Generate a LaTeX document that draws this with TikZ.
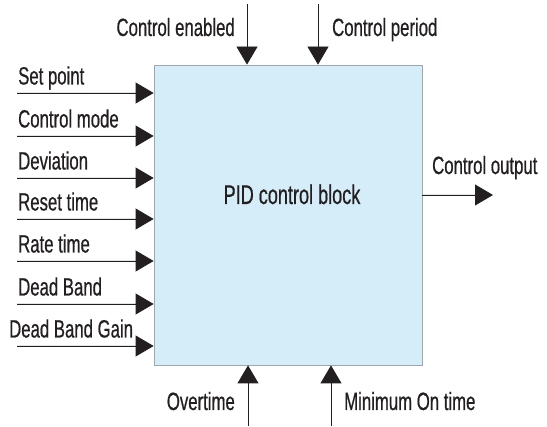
\documentclass[tikz,border=0pt]{standalone}
\usepackage{fontspec}
\setmainfont{Liberation Sans}[FakeStretch=0.67, FakeBold=0.6]
\usetikzlibrary{arrows.meta, positioning}
\definecolor{boxfill}{HTML}{D5ECF9}
\definecolor{boxline}{HTML}{9DA7AF}
\definecolor{inkdark}{HTML}{231F20}

\begin{document}
\begin{tikzpicture}[
  x=1pt, y=-1pt,
  >={Triangle[length=18pt, width=21pt]},
  font=\fontsize{25}{30}\selectfont,
  lbl/.style={inner sep=0pt, text=inkdark},
  pidbox/.style={draw=boxline, fill=boxfill, line width=0.8pt,
                 minimum width=268pt, minimum height=300pt, inner sep=0pt},
  arr/.style={draw=inkdark, fill=inkdark, line width=0.8pt, ->}
]
  \useasboundingbox (0,0) rectangle (547,427);

  % block
  \node[pidbox] (pid) at (288,215) {};
  \node[lbl, font=\fontsize{27}{32}\selectfont, anchor=base] (title) at (292,204)
    {PID control block};

  % inputs on the left
  \coordinate (setp)  at (17,93);
  \coordinate (cmode) at (17,136);
  \coordinate (dev)   at (17,178);
  \coordinate (reset) at (17,219);
  \coordinate (rate)  at (17,261);
  \coordinate (dband) at (17,304);
  \coordinate (dgain) at (17,346);
  \node[lbl, anchor=base west] (l-setp)  at (18,84.5)  {Set point};
  \node[lbl, anchor=base west] (l-cmode) at (18,127.5) {Control mode};
  \node[lbl, anchor=base west] (l-dev)   at (18,169.5) {Deviation};
  \node[lbl, anchor=base west] (l-reset) at (18,210.5) {Reset time};
  \node[lbl, anchor=base west] (l-rate)  at (18,252.5) {Rate time};
  \node[lbl, anchor=base west] (l-dband) at (18,295.5) {Dead Band};
  \node[lbl, anchor=base west] (l-dgain) at (9,337.5)  {Dead Band Gain};
  \draw[arr] (setp)  -- (setp -| pid.west);
  \draw[arr] (cmode) -- (cmode -| pid.west);
  \draw[arr] (dev)   -- (dev -| pid.west);
  \draw[arr] (reset) -- (reset -| pid.west);
  \draw[arr] (rate)  -- (rate -| pid.west);
  \draw[arr] (dband) -- (dband -| pid.west);
  \draw[arr] (dgain) -- (dgain -| pid.west);

  % inputs on top
  \coordinate (cen) at (247,4);
  \coordinate (cper) at (318,4);
  \node[lbl, anchor=base east] (l-cen)  at (235,36) {Control enabled};
  \node[lbl, anchor=base west] (l-cper) at (332,36) {Control period};
  \draw[arr] (cen)  -- (cen |- pid.north);
  \draw[arr] (cper) -- (cper |- pid.north);

  % inputs below
  \coordinate (otime) at (248,426);
  \coordinate (minon) at (331,426);
  \node[lbl, anchor=base east] (l-otime) at (235,410) {Overtime};
  \node[lbl, anchor=base west] (l-minon) at (344,410) {Minimum On time};
  \draw[arr] (otime) -- (otime |- pid.south);
  \draw[arr] (minon) -- (minon |- pid.south);

  % output
  \coordinate (cout) at (493,195);
  \node[lbl, anchor=base west] (l-cout) at (432,174) {Control output};
  \draw[arr] (pid.east |- cout) -- (cout);
\end{tikzpicture}
\end{document}
